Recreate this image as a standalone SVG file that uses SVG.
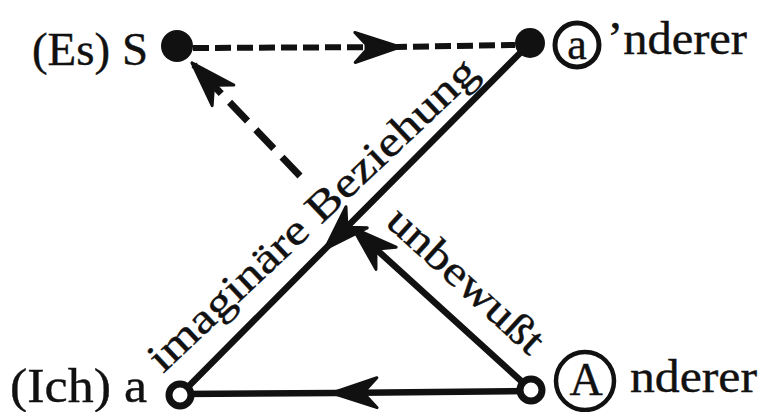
<svg xmlns="http://www.w3.org/2000/svg" width="771" height="412" viewBox="0 0 771 412">
  <style>
    .lbl { font-family: "Liberation Serif", "Times New Roman", serif; fill: #111; stroke: #111; stroke-width: 0.4; }
    .solid { fill: none; stroke: #111; stroke-width: 6.5; stroke-linecap: round; }
    .dash1 { fill: none; stroke: #111; stroke-width: 6; stroke-dasharray: 16 6; }
    .dash2 { fill: none; stroke: #111; stroke-width: 7; stroke-dasharray: 26 12; }
    .full { fill: #111; }
    .open { fill: #fff; stroke: #111; stroke-width: 7; }
    .ring { fill: none; stroke: #111; }
  </style>
  <defs>
    <marker id="barb" markerUnits="userSpaceOnUse" markerWidth="60" markerHeight="40" refX="0" refY="0" orient="auto" overflow="visible">
      <path d="M3,0 L-42,-15 L-31,-3 L-31,3 L-42,15 Z" fill="#111" stroke="#111" stroke-width="3" stroke-linejoin="round"/>
    </marker>
  </defs>
  <rect width="771" height="412" fill="#fff"/>

  <g id="connectors">
    <!-- S to a' (dashed, arrow in the middle) -->
    <path class="dash1" d="M193,48 L397,47 L515,45" marker-mid="url(#barb)"/>
    <!-- dashed return towards S -->
    <path class="dash2" d="M300,176 L194,65" marker-end="url(#barb)"/>
    <!-- imaginary relation a' to a -->
    <path class="solid" d="M530,43 L327,247 L180,395" marker-mid="url(#barb)"/>
    <!-- unconscious: A towards the crossing -->
    <path class="solid" d="M531,390 L355,230" marker-end="url(#barb)"/>
    <!-- A to a -->
    <path class="solid" d="M531,391 L335,393 L180,394" marker-mid="url(#barb)"/>
  </g>

  <g id="node-S">
    <circle class="full" cx="177" cy="46" r="16"/>
    <text class="lbl" x="32" y="65" font-size="46" textLength="116" lengthAdjust="spacingAndGlyphs">(Es) S</text>
  </g>
  <g id="node-a-prime">
    <circle class="full" cx="530" cy="43" r="15"/>
    <circle class="ring" cx="577" cy="45" r="22" stroke-width="5"/>
    <text class="lbl" x="577" y="59" font-size="44" text-anchor="middle">a</text>
    <text class="lbl" x="607" y="54" font-size="46" textLength="140" lengthAdjust="spacingAndGlyphs">’nderer</text>
  </g>
  <g id="node-a">
    <circle class="open" cx="180" cy="395" r="11"/>
    <text class="lbl" x="10" y="402" font-size="48" textLength="137" lengthAdjust="spacingAndGlyphs">(Ich) a</text>
  </g>
  <g id="node-A">
    <circle class="open" cx="531" cy="390" r="11"/>
    <circle class="ring" cx="585" cy="381" r="29" stroke-width="4.5"/>
    <text class="lbl" x="586" y="395" font-size="46" text-anchor="middle">A</text>
    <text class="lbl" x="630" y="392" font-size="46" textLength="127" lengthAdjust="spacingAndGlyphs">nderer</text>
  </g>

  <g id="edge-labels">
    <text class="lbl" transform="translate(163,374) rotate(-43.3)" font-size="42" textLength="436" lengthAdjust="spacingAndGlyphs">imaginäre Beziehung</text>
    <text class="lbl" transform="translate(384,224) rotate(42.3)" font-size="42" textLength="197" lengthAdjust="spacingAndGlyphs">unbewußt</text>
  </g>
</svg>
